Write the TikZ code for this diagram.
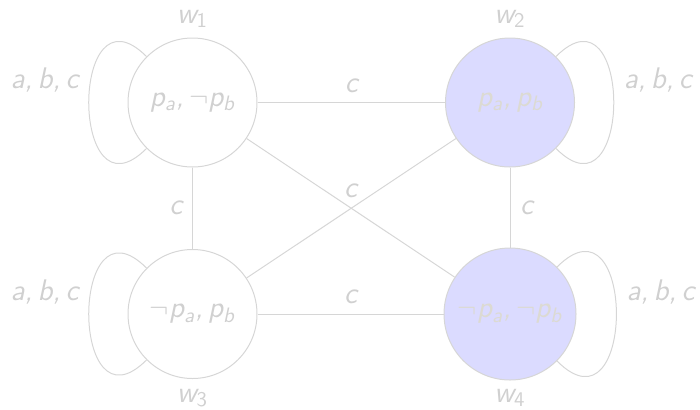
\documentclass[tikz,border=0pt]{standalone}
\definecolor{linegray}{RGB}{214,214,214}
\definecolor{textgray}{RGB}{208,208,208}
\definecolor{fadedtext}{RGB}{220,218,210}
\definecolor{worldfill}{RGB}{219,219,255}
% propositional atom with a subscript agent
\newcommand\atom[2]{#1\textsubscript{#2}}
\newcommand\lblfont{\fontsize{14.9}{17.5}\selectfont\sffamily\slshape}
\tikzset{
  world/.style={circle, draw=linegray, line width=0.5pt, minimum size=64.5pt,
    inner sep=0pt, font=\lblfont, text=textgray},
  marked/.style={world, fill=worldfill, text=fadedtext},
  lbl/.style={font=\lblfont, text=textgray, inner sep=4.8pt},
  rel/.style={draw=linegray, line width=0.5pt},
  selfloop/.style={rel, distance=54.5pt},
}
\begin{document}
\begin{tikzpicture}
  \useasboundingbox (0,0) rectangle (350pt,204.5pt);

  % worlds
  \node[world,  label={[lbl]above:w\textsubscript{\upshape 1}}] (w1) at (96.25pt,153.25pt)
    {\atom{p}{a},\,$\neg$\atom{p}{b}};
  \node[marked, label={[lbl]above:w\textsubscript{\upshape 2}}] (w2) at (255pt,153.25pt)
    {\atom{p}{a},\,\atom{p}{b}};
  \node[world,  label={[lbl]below:w\textsubscript{\upshape 3}}] (w3) at (96.25pt,47.5pt)
    {$\neg$\atom{p}{a},\,\atom{p}{b}};
  \node[marked, minimum size=66pt, label={[lbl, inner sep=4pt]below:w\textsubscript{\upshape 4}}] (w4) at (255pt,47.5pt)
    {$\neg$\atom{p}{a},\,$\neg$\atom{p}{b}};

  % reflexive relations
  \draw[selfloop] (w1) to[out=135,in=225] node[lbl, above left] {a,\,b,\,c} (w1);
  \draw[selfloop] (w3) to[out=135,in=225] node[lbl, above left] {a,\,b,\,c} (w3);
  \draw[selfloop] (w2) to[out=45,in=-45] node[lbl, above right] {a,\,b,\,c} (w2);
  \draw[selfloop, distance=56pt] (w4) to[out=45,in=-45] node[lbl, above right] {a,\,b,\,c} (w4);

  % relations for agent c
  \draw[rel] (w1) -- node[lbl, above] {c} (w2);
  \draw[rel] (w3) -- node[lbl, above] {c} (w4);
  \draw[rel] (w1) -- node[lbl, left] {c} (w3);
  \draw[rel] (w2) -- node[lbl, right] {c} (w4);
  \draw[rel] (w1) -- node[lbl, above] {c} (w4);
  \draw[rel] (w3) -- (w2);
\end{tikzpicture}
\end{document}
